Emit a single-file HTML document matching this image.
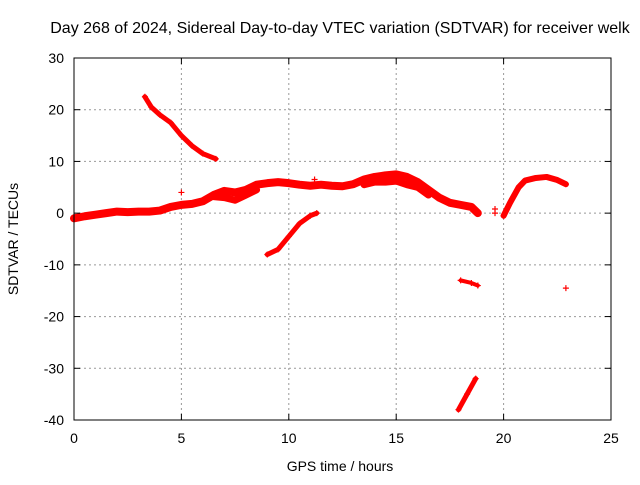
<!DOCTYPE html>
<html><head><meta charset="utf-8"><style>
body{margin:0;background:#fff;width:640px;height:480px;overflow:hidden}
svg{font-family:"Liberation Sans",sans-serif;font-size:14px}
</style></head><body>
<svg id="chart" width="640" height="480" xmlns="http://www.w3.org/2000/svg">
<text x="340" y="33" text-anchor="middle" font-size="16">Day 268 of 2024, Sidereal Day-to-day VTEC variation (SDTVAR) for receiver welk</text>
<g id="grid"></g>
<g id="marks"></g>
<rect x="74" y="58" width="537" height="362" fill="none" stroke="#000" stroke-width="1"/>
<g id="ticks"></g>
<text x="340" y="471" text-anchor="middle">GPS time / hours</text>
<text transform="translate(18,239) rotate(-90)" text-anchor="middle">SDTVAR / TECUs</text>
</svg>
<script>
const xTicks=[0,5,10,15,20,25];
const yTicks=[-40,-30,-20,-10,0,10,20,30];
const mainBand=[[0,-1],[0.5,-0.6],[1,-0.3],[1.5,0],[2,0.3],[2.5,0.2],[3,0.3],[3.5,0.3],[4,0.5],[4.5,1.2],[5,1.6],[5.5,1.8],[6,2.3],[6.5,3.5],[7,4.3],[7.5,4],[8,4.5],[8.5,5.5],[9,5.8],[9.5,6],[10,5.8],[10.5,5.5],[11,5.3],[11.5,5.5],[12,5.3],[12.5,5.2],[13,5.6],[13.5,6.5],[14,7],[14.5,7.3],[15,7.5],[15.5,7],[16,6],[16.5,4.5],[17,3],[17.5,2],[18,1.6],[18.5,1.2],[18.8,0]];
const lowerBand=[[6.5,3.2],[7,3],[7.5,2.5],[8,3.5],[8.5,4.5]];
const secondBand=[[13.5,5.5],[14,6],[14.5,6],[15,6.2],[15.5,5.5],[16,5],[16.5,3.5]];
const branchB=[[3.3,22.5],[3.6,20.5],[4,19],[4.5,17.5],[5,15],[5.5,13],[6,11.5],[6.6,10.5]];
const branchC=[[9,-8],[9.5,-7],[10,-4.5],[10.5,-2],[11,-0.5],[11.3,0]];
const branchD=[[17.9,-38],[18.3,-35],[18.7,-32]];
const branchE=[[18,-13],[18.5,-13.5],[18.8,-14]];
const branchF=[[20,-0.5],[20.3,2],[20.7,5],[21,6.3],[21.5,6.8],[22,7],[22.5,6.4],[22.9,5.6]];
const singles=[[19.6,0],[19.6,0.8],[22.9,-14.5],[5,4],[11.2,6.5]];
const X=t=>74+t*537/25, Y=v=>420-(v+40)*362/70;
const NS="http://www.w3.org/2000/svg";
const grid=document.getElementById('grid'),ticks=document.getElementById('ticks'),marks=document.getElementById('marks');
function mk(tag,at,parent){const e=document.createElementNS(NS,tag);for(const k in at)e.setAttribute(k,at[k]);parent.appendChild(e);return e;}
xTicks.forEach(t=>{const x=X(t);
 if(t>0&&t<25){const g=mk('line',{x1:x,x2:x,y1:58,y2:420,stroke:'#999','stroke-dasharray':'2,3'},grid);
 
 }
 mk('line',{x1:x,x2:x,y1:420,y2:414,stroke:'#000'},ticks);mk('line',{x1:x,x2:x,y1:58,y2:64,stroke:'#000'},ticks);
 const l=mk('text',{x:x,y:443,'text-anchor':'middle'},ticks);l.textContent=t;
 
 });
yTicks.forEach(v=>{const y=Y(v);
 if(v>-40&&v<30){const g=mk('line',{x1:74,x2:611,y1:y,y2:y,stroke:'#999','stroke-dasharray':'2,3'},grid);
 
 }
 mk('line',{x1:74,x2:80,y1:y,y2:y,stroke:'#000'},ticks);mk('line',{x1:611,x2:605,y1:y,y2:y,stroke:'#000'},ticks);
 const l=mk('text',{x:64,y:y+5,'text-anchor':'end'},ticks);l.textContent=v;
 
 });
function band(pts,w,name){const p=mk('polyline',{points:pts.map(d=>X(d[0])+','+Y(d[1])).join(' '),fill:'none',stroke:'#f00','stroke-width':w,'stroke-linejoin':'round','stroke-linecap':'round'},marks);
 
 
 pts.forEach(d=>plus(d));}
function plus(d){const x=X(d[0]),y=Y(d[1]);const p=mk('path',{d:`M${x-3},${y}h6M${x},${y-3}v6`,stroke:'#f00','stroke-width':1.2},marks);
 
 }
band(mainBand,8,'main-band');band(lowerBand,7,'lower-band');band(secondBand,7,'second-band');band(branchB,5,'branch-b');band(branchC,5,'branch-c');
band(branchD,5,'branch-d');band(branchE,4,'branch-e');band(branchF,6,'branch-f');
singles.forEach(plus);
</script>
</body></html>
